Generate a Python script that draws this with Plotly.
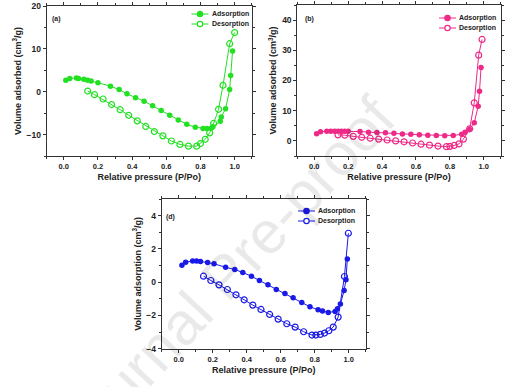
import plotly.graph_objects as go

# (a) data
a_ads_x = [0.012, 0.035, 0.074, 0.086, 0.117, 0.14, 0.16, 0.2, 0.273, 0.324, 0.37, 0.42, 0.47, 0.52, 0.57, 0.62, 0.67, 0.72, 0.77, 0.815, 0.838, 0.863, 0.873, 0.916, 0.922, 0.947, 0.971, 0.977, 0.988]
a_ads_y = [2.7, 3.1, 3.2, 3.1, 2.9, 2.7, 2.5, 2.1, 1.3, 0.5, -0.5, -1.4, -2.2, -3.3, -4.4, -5.5, -6.6, -7.6, -8.3, -8.6, -8.6, -8.5, -8.2, -6.9, -5.9, -4.0, 0.5, 3.8, 9.5]
a_des_x = [1.0, 0.971, 0.932, 0.906, 0.877, 0.854, 0.828, 0.80, 0.778, 0.73, 0.68, 0.63, 0.58, 0.53, 0.48, 0.43, 0.38, 0.33, 0.28, 0.23, 0.18, 0.14]
a_des_y = [13.8, 11.2, 1.5, -4.1, -7.4, -9.6, -11.1, -12.1, -12.7, -12.7, -12.3, -11.5, -10.3, -9.3, -8.1, -6.8, -5.5, -4.2, -3.0, -1.7, -0.7, 0.15]

# (b) data
b_ads_x = [0.014, 0.037, 0.074, 0.097, 0.12, 0.14, 0.16, 0.18, 0.2, 0.27, 0.32, 0.37, 0.42, 0.47, 0.52, 0.57, 0.62, 0.67, 0.72, 0.77, 0.82, 0.87, 0.89, 0.915, 0.944, 0.967, 0.975, 0.984]
b_ads_y = [2.4, 3.0, 3.2, 3.2, 3.2, 3.2, 3.2, 3.2, 3.2, 3.1, 2.9, 2.8, 2.7, 2.5, 2.3, 2.2, 2.0, 1.9, 1.8, 1.7, 1.8, 2.2, 2.9, 3.8, 6.0, 11.5, 16.4, 24.3]
b_des_x = [0.99, 0.97, 0.944, 0.917, 0.88, 0.854, 0.825, 0.80, 0.78, 0.73, 0.68, 0.63, 0.58, 0.53, 0.48, 0.43, 0.38, 0.33, 0.28, 0.23, 0.18, 0.14]
b_des_y = [33.6, 28.4, 12.6, 4.0, 0.6, -1.0, -1.5, -1.8, -1.9, -1.7, -1.4, -1.1, -0.7, -0.3, 0.0, 0.3, 0.6, 0.9, 1.2, 1.5, 1.9, 2.0]

# (d) data
d_ads_x = [0.019, 0.041, 0.082, 0.105, 0.128, 0.17, 0.208, 0.276, 0.33, 0.377, 0.428, 0.475, 0.525, 0.574, 0.625, 0.673, 0.724, 0.772, 0.82, 0.846, 0.88, 0.92, 0.934, 0.951, 0.973, 0.984, 0.992]
d_ads_y = [1.02, 1.2, 1.28, 1.28, 1.24, 1.18, 1.1, 0.9, 0.76, 0.58, 0.36, 0.1, -0.16, -0.44, -0.68, -0.94, -1.22, -1.48, -1.66, -1.74, -1.82, -1.76, -1.6, -1.32, -0.5, 0.14, 1.4]
d_des_x = [0.998, 0.975, 0.938, 0.909, 0.883, 0.858, 0.833, 0.807, 0.784, 0.735, 0.685, 0.636, 0.585, 0.535, 0.484, 0.436, 0.385, 0.337, 0.286, 0.237, 0.189, 0.146]
d_des_y = [2.94, 0.34, -2.1, -2.7, -2.92, -3.06, -3.14, -3.18, -3.18, -2.98, -2.7, -2.5, -2.22, -1.94, -1.64, -1.38, -1.06, -0.76, -0.44, -0.16, 0.1, 0.36]

x_ticks = [0.0, 0.2, 0.4, 0.6, 0.8, 1.0]
legend_labels = ["Adsorption", "Desorption"]

W, H = 506, 387
def px(x):
    return x / W
def py(y):
    return 1 - y / H

panels = [
    dict(name="a", color="#22e022", ads=(a_ads_x, a_ads_y), des=(a_des_x, a_des_y),
         box=(46.7, 251.7, 6, 156), yr=[-15, 20], dtick=10,
         ytitle="Volume adsorbed (cm<sup>3</sup>/g)", leg=(191.5, 14, 10), lab=(50, 13)),
    dict(name="b", color="#ee2a88", ads=(b_ads_x, b_ads_y), des=(b_des_x, b_des_y),
         box=(297.3, 500.7, 5, 156), yr=[-5, 45], dtick=10,
         ytitle="Volume adsorbed (cm<sup>3</sup>/g)", leg=(439, 18, 10), lab=(303, 13)),
    dict(name="d", color="#1a1ae8", ads=(d_ads_x, d_ads_y), des=(d_des_x, d_des_y),
         box=(161.7, 365.7, 199, 348.7), yr=[-4, 5], dtick=2,
         ytitle="Volume adsorption (cm<sup>3</sup>/g)", leg=(298, 211, 10), lab=(164, 211)),
]

fig = go.Figure()
font_fam = "Liberation Sans, Arial, sans-serif"
tc = "#222222"

# watermark
fig.add_annotation(x=px(225), y=py(276), xref="paper", yref="paper", text="Journal Pre-proof",
                   showarrow=False, textangle=-47, xanchor="center", yanchor="middle",
                   font=dict(family=font_fam, size=60, color="rgba(0,0,0,0.085)"))

for i, p in enumerate(panels):
    n = "" if i == 0 else str(i + 1)
    xa, ya = "x" + n, "y" + n
    x0, x1, y0, y1 = p["box"]
    fig.add_trace(go.Scatter(x=p["ads"][0], y=p["ads"][1], mode="lines+markers", name=legend_labels[0],
                             xaxis=xa, yaxis=ya, showlegend=False,
                             line=dict(color=p["color"], width=1),
                             marker=dict(symbol="circle", size=5.5, color=p["color"])))
    fig.add_trace(go.Scatter(x=p["des"][0], y=p["des"][1], mode="lines+markers", name=legend_labels[1],
                             xaxis=xa, yaxis=ya, showlegend=False,
                             line=dict(color=p["color"], width=1),
                             marker=dict(symbol="circle-open", size=6, color=p["color"], line=dict(width=1.2))))
    axcommon = dict(showline=True, linecolor="#333", linewidth=1, mirror="ticks", ticks="outside",
                    ticklen=3, tickcolor="#333", showgrid=False, zeroline=False)
    fig.update_layout(**{
        "xaxis" + n: dict(domain=[px(x0), px(x1)], anchor=ya, range=[-0.1, 1.1], tickvals=x_ticks,
                          ticktext=["%.1f" % v for v in x_ticks],
                          minor=dict(dtick=0.1, ticks="outside", ticklen=2, tickcolor="#333"),
                          tickfont=dict(family=font_fam, size=7.5, color=tc, weight="bold"),
                          title=dict(text="Relative pressure (P/Po)", standoff=3,
                                     font=dict(family=font_fam, size=9, color=tc, weight="bold")),
                          **axcommon),
        "yaxis" + n: dict(domain=[py(y1), py(y0)], anchor=xa, range=p["yr"], dtick=p["dtick"],
                          minor=dict(dtick=p["dtick"] / 2, ticks="outside", ticklen=2, tickcolor="#333"),
                          tickfont=dict(family=font_fam, size=8.5, color=tc, weight="bold"),
                          title=dict(text=p["ytitle"], standoff=3,
                                     font=dict(family=font_fam, size=9, color=tc, weight="bold")),
                          **axcommon),
    })
    # panel label
    fig.add_annotation(x=px(p["lab"][0]), y=py(p["lab"][1]), xref="paper", yref="paper",
                       text="(%s)" % p["name"], showarrow=False, xanchor="left", yanchor="top",
                       font=dict(family=font_fam, size=7, color=tc, weight="bold"))
    # manual compact legend
    lx, ly, dy = p["leg"]
    for k, lab in enumerate(legend_labels):
        yy = ly + k * dy
        fig.add_shape(type="line", xref="paper", yref="paper", x0=px(lx), x1=px(lx + 17),
                      y0=py(yy), y1=py(yy), line=dict(color=p["color"], width=1))
        fig.add_shape(type="circle", xref="paper", yref="paper", xsizemode="pixel", ysizemode="pixel",
                      xanchor=px(lx + 8.5), yanchor=py(yy), x0=-2.7, x1=2.7, y0=-2.7, y1=2.7,
                      line=dict(color=p["color"], width=1.2),
                      fillcolor=p["color"] if k == 0 else "white")
        fig.add_annotation(x=px(lx + 18), y=py(yy), xref="paper", yref="paper", text=lab,
                           showarrow=False, xanchor="left", yanchor="middle",
                           font=dict(family=font_fam, size=7, color=tc, weight="bold"))

fig.update_layout(width=W, height=H, margin=dict(l=0, r=0, t=0, b=0, autoexpand=False),
                  paper_bgcolor="white", plot_bgcolor="white", showlegend=False)

fig.write_html("out.html", config={"displayModeBar": False},
               post_script="document.body.style.margin='0';document.body.style.padding='0';")
